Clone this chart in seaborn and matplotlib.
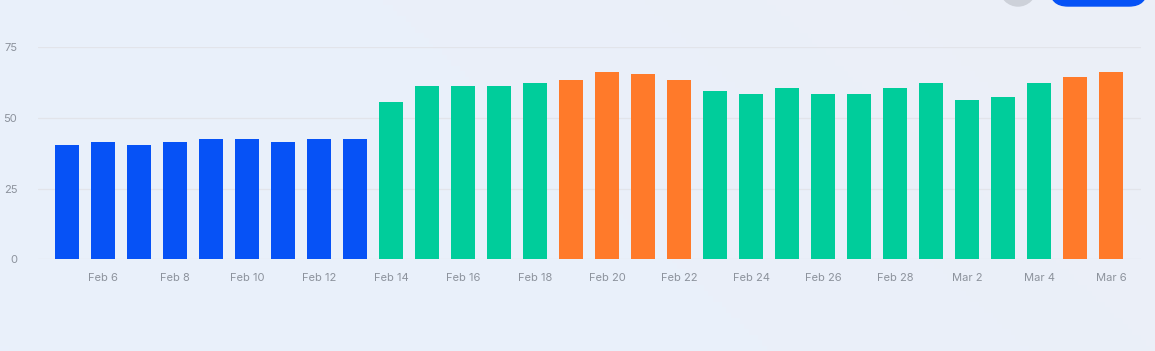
import matplotlib
matplotlib.use("Agg")
import matplotlib.pyplot as plt
import matplotlib.patches as mpatches
from matplotlib.transforms import IdentityTransform
from matplotlib.colors import LinearSegmentedColormap
import seaborn as sns
import pandas as pd
import numpy as np

# ---- data ----
dates = ["Feb 5", "Feb 6", "Feb 7", "Feb 8", "Feb 9", "Feb 10", "Feb 11", "Feb 12", "Feb 13",
         "Feb 14", "Feb 15", "Feb 16", "Feb 17", "Feb 18", "Feb 19", "Feb 20", "Feb 21", "Feb 22",
         "Feb 23", "Feb 24", "Feb 25", "Feb 26", "Feb 27", "Feb 28", "Mar 1", "Mar 2", "Mar 3",
         "Mar 4", "Mar 5", "Mar 6"]
values = [40.4, 41.5, 40.4, 41.5, 42.6, 42.6, 41.5, 42.6, 42.6,
          55.6, 61.3, 61.3, 61.3, 62.4, 63.5, 66.3, 65.5, 63.5,
          59.5, 58.4, 60.6, 58.4, 58.4, 60.6, 62.4, 56.3, 57.4,
          62.4, 64.5, 66.3]
status = ["low"] * 9 + ["normal"] * 5 + ["high"] * 4 + ["normal"] * 10 + ["high"] * 2
status_colors = {"low": "#0652F6", "normal": "#00CD9B", "high": "#FF7A2A"}
y_ticks = [0, 25, 50, 75]

df = pd.DataFrame({"date": dates, "value": values, "status": status})

sns.set_theme(style="white")
plt.rcParams["font.family"] = ["Inter", "DejaVu Sans"]

W, H = 1155, 351
bg = "#EAF0FA"
fig = plt.figure(figsize=(W / 100, H / 100), dpi=100, facecolor=bg)

# subtle background gradient
bg_ax = fig.add_axes([0, 0, 1, 1], zorder=-10)
grad_cmap = LinearSegmentedColormap.from_list("bg", ["#E9F0FB", "#EAF0FA", "#ECEFF7"])
gx = np.linspace(0, 1, 256)
gy = np.linspace(0, 1, 64)
G = 0.75 * gx[None, :] + 0.25 * (1 - gy[:, None])
bg_ax.imshow(G, cmap=grad_cmap, aspect="auto", extent=[0, 1, 0, 1], vmin=0, vmax=1)
bg_ax.set_axis_off()

ax = fig.add_axes([38 / W, 1 - 259.3 / H, (1141 - 38) / W, (259.3 - 47.3) / H])
ax.set_facecolor("none")

sns.barplot(data=df, x="date", y="value", hue="status", hue_order=["low", "normal", "high"],
            palette=status_colors, dodge=False, width=0.667, legend=False, ax=ax,
            saturation=1, linewidth=0, edgecolor="none", zorder=3)

ax.set_xlim(-0.81, 29.83)
ax.set_ylim(0, 75)
ax.set_yticks(y_ticks)
ax.set_yticklabels([str(t) for t in y_ticks])
tick_pos = list(range(1, len(dates), 2))
ax.set_xticks(tick_pos)
ax.set_xticklabels([dates[i] for i in tick_pos])
ax.set_xlabel("")
ax.set_ylabel("")
for s in ax.spines.values():
    s.set_visible(False)
ax.grid(axis="y", color="#E2E4EA", linewidth=0.9, zorder=0)
ax.set_axisbelow(True)
ax.tick_params(axis="y", length=0, pad=15, labelsize=8, labelcolor="#8C929C")
ax.tick_params(axis="x", length=0, pad=10, labelsize=8, labelcolor="#8C929C")

# decorative UI elements at top right (pixel coordinates, origin bottom-left)
fig.patches.append(mpatches.Circle((1018, H + 12), 18, transform=IdentityTransform(),
                                   color="#CDD1D9", zorder=5))
fig.patches.append(mpatches.FancyBboxPatch((1050, H - 6), 97, 40,
                                           boxstyle="round,pad=0,rounding_size=18",
                                           transform=IdentityTransform(), color="#0652F6",
                                           zorder=5))

fig.savefig("out.png", dpi=100, facecolor=bg)
